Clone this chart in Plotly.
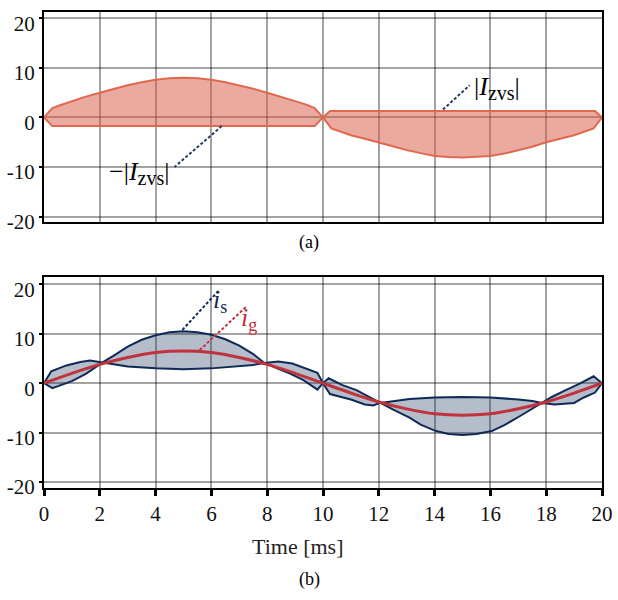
import plotly.graph_objects as go

# ---------------- data ----------------
# Panel (a): ZVS current band, first half-cycle
A1_UP_T = [0, 0.3, 0.6, 1, 1.5, 2, 2.5, 3, 3.5, 4, 4.5, 5, 5.5, 6, 6.5, 7, 7.5, 8, 8.5, 9, 9.4, 9.7, 10]
A1_UP_V = [0, 1.9, 2.5, 3.3, 4.2, 5.0, 5.8, 6.5, 7.1, 7.6, 7.9, 8.0, 7.9, 7.6, 7.1, 6.5, 5.8, 5.0, 4.2, 3.3, 2.6, 1.9, 0]
A1_LO_T = [0, 0.3, 9.7, 10]
A1_LO_V = [0, -1.75, -1.75, 0]
# Panel (a): second half-cycle
A2_UP_T = [10, 10.25, 19.75, 20]
A2_UP_V = [0, 1.3, 1.3, 0]
A2_LO_T = [10, 10.3, 11, 11.5, 12, 12.5, 13, 13.5, 14, 14.5, 15, 15.5, 16, 16.5, 17, 17.5, 18, 18.5, 19, 19.3, 19.7, 20]
A2_LO_V = [0, -2.2, -3.6, -4.3, -5.0, -5.8, -6.6, -7.2, -7.8, -8.0, -8.1, -8.0, -7.8, -7.3, -6.6, -5.9, -5.0, -4.3, -3.6, -3.0, -2.2, 0]

# Panel (b): switch current envelope, first half-cycle (two crossing curves)
S1_A_T = [0, 0.26, 0.8, 1.3, 1.65, 2.1, 2.5, 3, 4, 5, 6, 7, 7.5, 7.9, 8.4, 8.9, 9.3, 9.8, 10]
S1_A_V = [0, 2.4, 3.6, 4.3, 4.6, 4.2, 3.8, 3.4, 3.0, 2.8, 3.0, 3.4, 3.7, 4.1, 4.4, 4.0, 3.1, 2.1, 0]
S1_B_T = [0, 0.3, 1.0, 1.5, 2.1, 2.5, 3, 3.5, 4, 4.5, 5, 5.5, 6, 6.5, 7, 7.5, 7.9, 8.4, 8.8, 9.3, 9.8, 10]
S1_B_V = [0, -1.0, 0.4, 1.9, 4.2, 5.6, 7.4, 8.8, 9.7, 10.3, 10.5, 10.3, 9.8, 8.9, 7.6, 5.9, 4.1, 2.9, 2.0, 0.6, -1.3, 0]
# Panel (b): second half-cycle
S2_C_T = [10, 10.2, 10.7, 11.2, 11.6, 12.05, 12.5, 13.1, 13.5, 14.05, 14.5, 15, 15.5, 16.05, 16.5, 17.05, 17.5, 17.85, 18.2, 18.7, 19.2, 19.7, 20]
S2_C_V = [0, 1.0, -0.4, -1.4, -2.6, -4.0, -5.3, -7.0, -8.4, -9.7, -10.3, -10.5, -10.3, -9.7, -8.5, -6.7, -5.2, -4.0, -2.8, -1.4, -0.1, 1.4, 0]
S2_D_T = [10, 10.25, 11, 11.5, 11.8, 12.05, 12.5, 13.1, 14, 15, 16, 17, 17.5, 17.85, 18.3, 19.0, 19.35, 19.75, 20]
S2_D_V = [0, -2.2, -3.3, -4.3, -4.5, -4.0, -3.6, -3.2, -2.9, -2.8, -2.9, -3.3, -3.6, -4.0, -4.3, -4.0, -2.9, -1.9, 0]

# Grid current i_g
IG_T = [0, 1, 2, 3, 4, 5, 6, 7, 8, 9, 10, 11, 12, 13, 14, 15, 16, 17, 18, 19, 20]
IG_V = [0, 2.0, 3.8, 5.2, 6.2, 6.5, 6.2, 5.2, 3.8, 2.0, 0, -2.0, -3.8, -5.2, -6.2, -6.5, -6.2, -5.2, -3.8, -2.0, 0]

X_TICKS = [0, 2, 4, 6, 8, 10, 12, 14, 16, 18, 20]
Y_TICKS = [-20, -10, 0, 10, 20]
Y_TICKTEXT = ["-20", "-10", "0", "10", "20"]

# ---------------- styling ----------------
FONT = "Liberation Serif"
ZVS_LINE = "#e0684f"
ZVS_FILL = "rgba(214,86,66,0.50)"
NAVY = "#0f2a55"
S_FILL = "rgba(30,55,95,0.33)"
RED = "#c0323d"
GRID = "rgba(0,0,0,0.36)"


def band(t1, v1, t2, v2):
    return list(t1) + list(t2)[::-1], list(v1) + list(v2)[::-1]


fig = go.Figure()

for (t1, v1, t2, v2) in [(A1_UP_T, A1_UP_V, A1_LO_T, A1_LO_V), (A2_UP_T, A2_UP_V, A2_LO_T, A2_LO_V)]:
    xs, ys = band(t1, v1, t2, v2)
    fig.add_trace(go.Scatter(x=xs, y=ys, mode="lines", fill="toself", fillcolor=ZVS_FILL,
                             line=dict(color=ZVS_LINE, width=2), xaxis="x", yaxis="y",
                             hoverinfo="skip", showlegend=False))

for (t1, v1, t2, v2) in [(S1_A_T, S1_A_V, S1_B_T, S1_B_V), (S2_C_T, S2_C_V, S2_D_T, S2_D_V)]:
    xs, ys = band(t1, v1, t2, v2)
    fig.add_trace(go.Scatter(x=xs, y=ys, mode="lines", fill="toself", fillcolor=S_FILL,
                             line=dict(color=NAVY, width=2), xaxis="x2", yaxis="y2",
                             hoverinfo="skip", showlegend=False))

fig.add_trace(go.Scatter(x=IG_T, y=IG_V, mode="lines", line=dict(color=RED, width=3, shape="spline"),
                         xaxis="x2", yaxis="y2", hoverinfo="skip", showlegend=False))

axis_common = dict(showgrid=True, gridcolor=GRID, gridwidth=2, zeroline=False, automargin=False,
                   showline=True, linecolor="black", linewidth=2, mirror=True,
                   tickfont=dict(family=FONT, size=21, color="#111"))

fig.update_layout(
    template="none",
    width=618, height=600,
    margin=dict(l=44, r=16, t=12, b=112, autoexpand=False),
    paper_bgcolor="white", plot_bgcolor="white",
    font=dict(family=FONT, color="#111"),
    xaxis=dict(axis_common, domain=[0, 1], range=[0, 20], tickvals=X_TICKS, showticklabels=False,
               ticks="", anchor="y"),
    yaxis=dict(axis_common, domain=[0.5582, 1], range=[-21.17, 21.29], tickvals=Y_TICKS,
               ticktext=Y_TICKTEXT,
               ticks="outside", ticklen=3, tickwidth=2, tickcolor="black", ticklabelshift=5, anchor="x"),
    xaxis2=dict(axis_common, domain=[0, 1], range=[0, 20], tickvals=X_TICKS,
                ticks="outside", ticklen=6, tickwidth=2.5, tickcolor="black", anchor="y2"),
    yaxis2=dict(axis_common, domain=[0, 0.4426], range=[-21.24, 21.45], tickvals=Y_TICKS,
                ticktext=Y_TICKTEXT,
                ticks="outside", ticklen=3, tickwidth=2, tickcolor="black", ticklabelshift=5, anchor="x2"),
)

DASH = "3px,2px"
shapes = [
    dict(type="line", xref="x", yref="y", x0=6.37, y0=-1.75, x1=4.68, y1=-10.0,
         line=dict(color="#2a3a66", width=2, dash=DASH)),
    dict(type="line", xref="x", yref="y", x0=14.30, y0=1.6, x1=15.26, y1=6.5,
         line=dict(color="#2a3a66", width=2, dash=DASH)),
    dict(type="line", xref="x2", yref="y2", x0=4.96, y0=10.8, x1=6.30, y1=19.0,
         line=dict(color=NAVY, width=2, dash=DASH)),
    dict(type="line", xref="x2", yref="y2", x0=5.58, y0=6.7, x1=7.25, y1=15.5,
         line=dict(color=RED, width=2, dash=DASH)),
]
fig.update_layout(shapes=shapes)

SUBZ = "<span style='font-family:Liberation Serif;font-size:20px'>%s</span>"
SUBI = "<span style='font-family:Liberation Serif;font-size:18px'>%s</span>"
ann = [
    dict(xref="x", yref="y", x=4.55, y=-11.3, xanchor="right", yanchor="middle",
         text="\u2212|<i>I</i><sub>" + SUBZ % "zvs" + "</sub>|", showarrow=False,
         font=dict(family=FONT, size=26, color="black")),
    dict(xref="x", yref="y", x=15.33, y=5.9, xanchor="left", yanchor="middle",
         text="|<i>I</i><sub>" + SUBZ % "zvs" + "</sub>|", showarrow=False,
         font=dict(family=FONT, size=26, color="black")),
    dict(xref="x2", yref="y2", x=6.0, y=16.6, xanchor="left", yanchor="middle",
         text="<i>i</i><sub>" + SUBI % "s" + "</sub>", showarrow=False,
         font=dict(family=FONT, size=26, color=NAVY)),
    dict(xref="x2", yref="y2", x=6.98, y=13.0, xanchor="left", yanchor="middle",
         text="<i>i</i><sub>" + SUBI % "g" + "</sub>", showarrow=False,
         font=dict(family=FONT, size=26, color=RED)),
    dict(xref="x2", yref="paper", x=9.1, y=0.0, xanchor="center", yanchor="middle",
         text="Time [ms]", showarrow=False, yshift=-58,
         font=dict(family=FONT, size=22, color="#222")),
    dict(xref="x2", yref="paper", x=9.5, y=0.5582, xanchor="center", yanchor="middle",
         text="(a)", showarrow=False, yshift=-20,
         font=dict(family=FONT, size=18, color="black")),
    dict(xref="x2", yref="paper", x=9.5, y=0.0, xanchor="center", yanchor="middle",
         text="(b)", showarrow=False, yshift=-91,
         font=dict(family=FONT, size=18, color="black")),
]
fig.update_layout(annotations=ann)

fig.write_html("out.html")
